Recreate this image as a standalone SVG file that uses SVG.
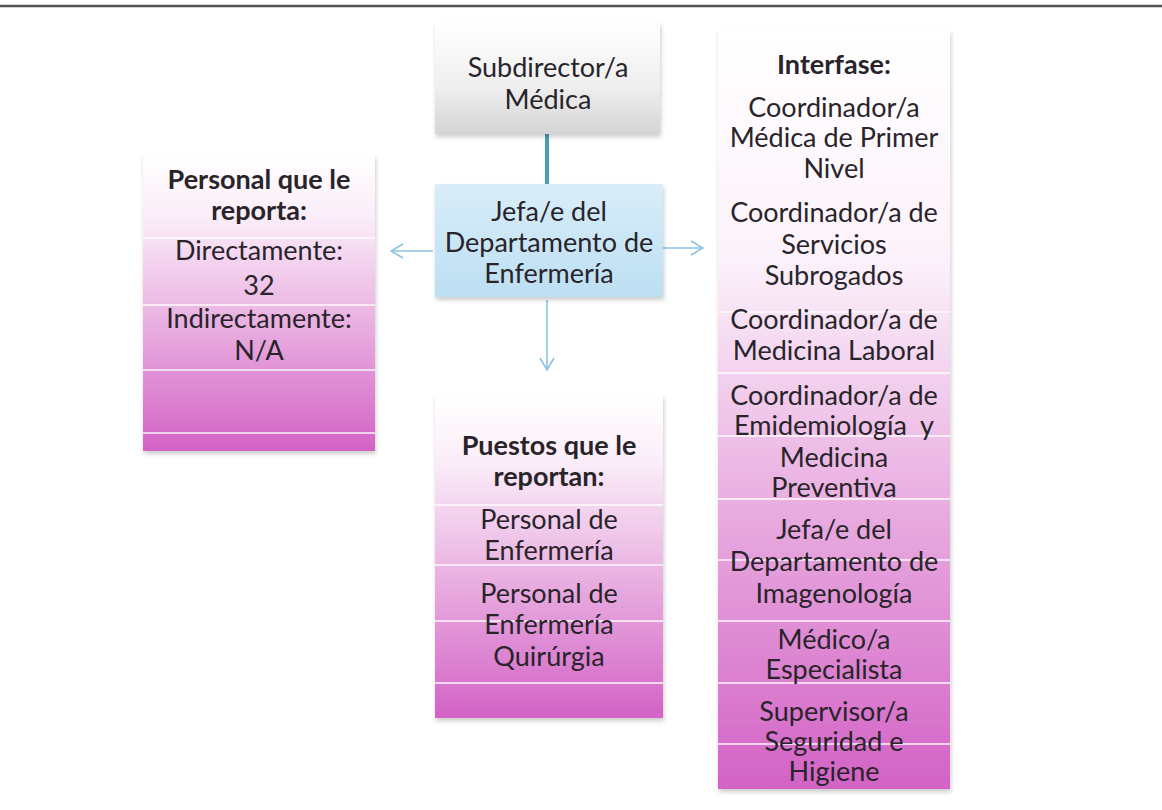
<svg xmlns="http://www.w3.org/2000/svg" width="1162" height="810" viewBox="0 0 1162 810">
<style>
  text { font-family: Lato, "Liberation Sans", sans-serif; font-size: 27px; fill: #28242a; text-anchor: middle; }
  .b { font-weight: bold; }
  .sep { stroke: #ffffff; stroke-width: 2; opacity: 0.7; }
  .arrow { stroke: #8cc3e3; stroke-width: 1.6; fill: none; }
</style>
<defs>
  <linearGradient id="gray" x1="0" y1="0" x2="0" y2="1">
    <stop offset="0" stop-color="#ffffff"/>
    <stop offset="0.6" stop-color="#eeeeee"/>
    <stop offset="1" stop-color="#d4d4d4"/>
  </linearGradient>
  <linearGradient id="blue" x1="0" y1="0" x2="0" y2="1">
    <stop offset="0" stop-color="#d9edf9"/>
    <stop offset="1" stop-color="#bcdff2"/>
  </linearGradient>
  <linearGradient id="pink" x1="0" y1="0" x2="0" y2="1">
    <stop offset="0" stop-color="#ffffff"/>
    <stop offset="0.2" stop-color="#fbeef9"/>
    <stop offset="0.55" stop-color="#eab3e2"/>
    <stop offset="1" stop-color="#d362c5"/>
  </linearGradient>
  <linearGradient id="pinkR" x1="0" y1="0" x2="0" y2="1">
    <stop offset="0" stop-color="#ffffff"/>
    <stop offset="0.3" stop-color="#fcf2fb"/>
    <stop offset="0.55" stop-color="#edbde6"/>
    <stop offset="1" stop-color="#d362c5"/>
  </linearGradient>
  <filter id="sh" x="-5%" y="-5%" width="110%" height="115%">
    <feDropShadow dx="1" dy="3" stdDeviation="2" flood-color="#000" flood-opacity="0.2"/>
  </filter>
  <marker id="ah" markerWidth="14" markerHeight="16" refX="13" refY="8" orient="auto" markerUnits="userSpaceOnUse">
    <path d="M1,1 L13,8 L1,15" stroke="#8cc3e3" stroke-width="1.6" fill="none"/>
  </marker>
</defs>

<rect x="0" y="0" width="1162" height="810" fill="#ffffff"/>
<line x1="0" y1="6" x2="1162" y2="6" stroke="#555555" stroke-width="2.5"/>

<g id="connectors">
  <line x1="547" y1="134" x2="547" y2="184" stroke="#4a9fb8" stroke-width="4"/>
  <line class="arrow" x1="433" y1="251" x2="391" y2="251" marker-end="url(#ah)"/>
  <line class="arrow" x1="663" y1="248" x2="703" y2="248" marker-end="url(#ah)"/>
  <line class="arrow" x1="547" y1="300" x2="547" y2="370" marker-end="url(#ah)"/>
</g>

<g id="subdirector">
  <rect x="435" y="22" width="225" height="112" fill="url(#gray)" filter="url(#sh)"/>
  <text x="548" y="77">Subdirector/a</text>
  <text x="548" y="109">Médica</text>
</g>

<g id="jefa">
  <rect x="435" y="184" width="228" height="113" fill="url(#blue)" filter="url(#sh)"/>
  <text x="549" y="221">Jefa/e del</text>
  <text x="549" y="252">Departamento de</text>
  <text x="549" y="283">Enfermería</text>
</g>

<g id="personal">
  <rect x="143" y="155" width="232" height="296" fill="url(#pink)" filter="url(#sh)"/>
  <line class="sep" x1="143" y1="238" x2="375" y2="238"/>
  <line class="sep" x1="143" y1="305" x2="375" y2="305"/>
  <line class="sep" x1="143" y1="370" x2="375" y2="370"/>
  <line class="sep" x1="143" y1="433" x2="375" y2="433"/>
  <text class="b" x="259" y="189">Personal que le</text>
  <text class="b" x="259" y="220">reporta:</text>
  <text x="259" y="260">Directamente:</text>
  <text x="259" y="295">32</text>
  <text x="259" y="328">Indirectamente:</text>
  <text x="259" y="360">N/A</text>
</g>

<g id="puestos">
  <rect x="435" y="395" width="228" height="323" fill="url(#pink)" filter="url(#sh)"/>
  <line class="sep" x1="435" y1="505" x2="663" y2="505"/>
  <line class="sep" x1="435" y1="565" x2="663" y2="565"/>
  <line class="sep" x1="435" y1="621" x2="663" y2="621"/>
  <line class="sep" x1="435" y1="683" x2="663" y2="683"/>
  <text class="b" x="549" y="455">Puestos que le</text>
  <text class="b" x="549" y="486">reportan:</text>
  <text x="549" y="529">Personal de</text>
  <text x="549" y="560">Enfermería</text>
  <text x="549" y="603">Personal de</text>
  <text x="549" y="634">Enfermería</text>
  <text x="549" y="666">Quirúrgia</text>
</g>

<g id="interfase">
  <rect x="718" y="30" width="232" height="759" fill="url(#pinkR)" filter="url(#sh)"/>
  <line class="sep" x1="718" y1="312" x2="950" y2="312"/>
  <line class="sep" x1="718" y1="373" x2="950" y2="373"/>
  <line class="sep" x1="718" y1="436" x2="950" y2="436"/>
  <line class="sep" x1="718" y1="499" x2="950" y2="499"/>
  <line class="sep" x1="718" y1="560" x2="950" y2="560"/>
  <line class="sep" x1="718" y1="621" x2="950" y2="621"/>
  <line class="sep" x1="718" y1="683" x2="950" y2="683"/>
  <line class="sep" x1="718" y1="744" x2="950" y2="744"/>
  <text class="b" x="834" y="74">Interfase:</text>
  <text x="834" y="117">Coordinador/a</text>
  <text x="834" y="147">Médica de Primer</text>
  <text x="834" y="178">Nivel</text>
  <text x="834" y="222">Coordinador/a de</text>
  <text x="834" y="254">Servicios</text>
  <text x="834" y="285">Subrogados</text>
  <text x="834" y="329">Coordinador/a de</text>
  <text x="834" y="360">Medicina Laboral</text>
  <text x="834" y="405">Coordinador/a de</text>
  <text x="834" y="435" xml:space="preserve">Emidemiología  y</text>
  <text x="834" y="467">Medicina</text>
  <text x="834" y="497">Preventiva</text>
  <text x="834" y="539">Jefa/e del</text>
  <text x="834" y="571">Departamento de</text>
  <text x="834" y="603">Imagenología</text>
  <text x="834" y="649">Médico/a</text>
  <text x="834" y="679">Especialista</text>
  <text x="834" y="721">Supervisor/a</text>
  <text x="834" y="751">Seguridad e</text>
  <text x="834" y="781">Higiene</text>
</g>
</svg>
